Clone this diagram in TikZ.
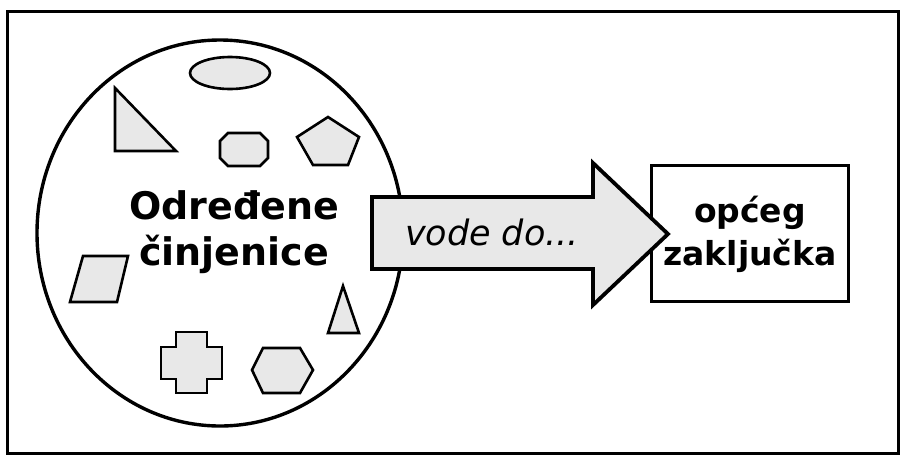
\documentclass[tikz,border=0pt]{standalone}
\usepackage{fontspec}
\setmainfont{DejaVu Sans}
\definecolor{shapefill}{HTML}{E8E8E8}
\tikzset{
  shp/.style={draw=black, fill=shapefill, line width=2.6pt, line join=miter},
  bigtxt/.style={font=\bfseries\fontsize{38}{46}\selectfont, align=center, inner sep=0pt},
}
\begin{document}
\begin{tikzpicture}[x=1pt,y=-1pt]
\useasboundingbox (0,0) rectangle (908,464);
\fill[white] (0,0) rectangle (908,464);
% outer frame
\draw[line width=3pt] (7,11) rectangle (898,453);
% big circle
\draw[line width=3.4pt] (220,233) ellipse [x radius=183, y radius=193];
% small shapes
\draw[shp] (230,73) ellipse [x radius=40, y radius=16];
\draw[shp] (115,88) -- (115,151) -- (176,151) -- cycle;
\draw[shp] (228,133) -- (260,133) -- (268,141) -- (268,158) -- (260,166) -- (228,166) -- (220,158) -- (220,141) -- cycle;
\draw[shp] (328,117) -- (359,137) -- (348,165) -- (313,165) -- (297,137) -- cycle;
\draw[shp] (83,256) -- (128,256) -- (117,302) -- (70,302) -- cycle;
\draw[shp] (343,286) -- (359,333) -- (328,333) -- cycle;
\draw[shp] (176,332) -- (207,332) -- (207,347) -- (222,347) -- (222,379) -- (207,379) -- (207,393) -- (176,393) -- (176,379) -- (161,379) -- (161,347) -- (176,347) -- cycle;
\draw[shp] (252,370) -- (263,348) -- (300,348) -- (313,370) -- (300,393) -- (263,393) -- cycle;
% text in circle
\node[bigtxt] (facts) at (234,232) {Određene\\činjenice};
% conclusion box
\node[draw, line width=3.5pt, minimum width=197pt, minimum height=136pt, inner sep=0pt] (concl) at (750,233.5) {};
\node[bigtxt, font=\bfseries\fontsize{33}{43}\selectfont] (concltxt) at (750,234) {općeg\\zaključka};
% arrow
\coordinate (tip) at (668,234);
\draw[line width=3.8pt, fill=shapefill, line join=miter] (372,197) -- (593,197) -- (593,163) -- (tip) -- (593,305) -- (593,269) -- (372,269) -- cycle;
\node[font=\itshape\fontsize{35}{40}\selectfont, inner sep=0pt] (lead) at (492,232) {vode do...};
\end{tikzpicture}
\end{document}
